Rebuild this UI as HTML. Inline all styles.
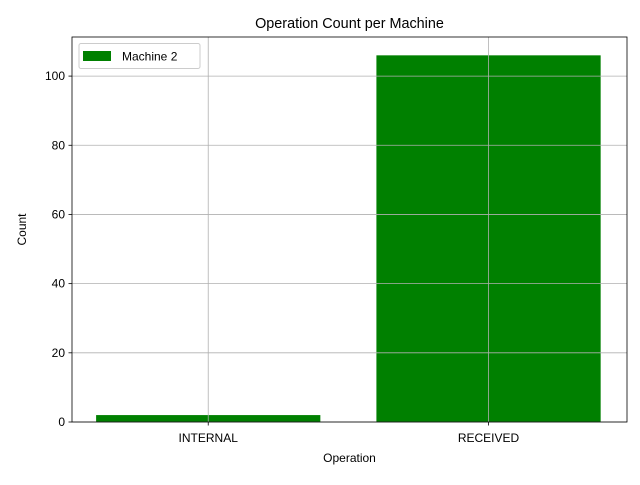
<!DOCTYPE html>
<html><head><meta charset="utf-8"><style>
body{margin:0;background:#fff}
svg{font-family:"Liberation Sans","DejaVu Sans",sans-serif}
</style></head><body>
<svg id="chart" width="640" height="480" viewBox="0 0 640 480"></svg>
<script>
const categories=["INTERNAL","RECEIVED"];
const values=[2,106];
const yTicks=[0,20,40,60,80,100];
const seriesName="Machine 2";
const NS="http://www.w3.org/2000/svg";
const svg=document.getElementById('chart');
const L=72,R=627,T=37,B=422;
const xmin=-0.486,xmax=1.494,ymin=0,ymax=111.3;
const xs=v=>L+(v-xmin)/(xmax-xmin)*(R-L);
const ys=v=>B-(v-ymin)/(ymax-ymin)*(B-T);
function mk(tag,attrs,parent){const e=document.createElementNS(NS,tag);for(const k in attrs)e.setAttribute(k,attrs[k]);(parent||svg).appendChild(e);return e;}
values.forEach((v,i)=>{
 const r=mk('rect',{x:xs(i-0.4),y:ys(v),width:xs(i+0.4)-xs(i-0.4),height:ys(0)-ys(v),fill:'#008000'});
 
 
});
yTicks.forEach(t=>{
 const g=mk('line',{x1:L,x2:R,y1:ys(t),y2:ys(t),stroke:'#b0b0b0','stroke-width':0.8});
 
 
 mk('line',{x1:L-3.5,x2:L,y1:ys(t),y2:ys(t),stroke:'#000','stroke-width':0.8});
 const tx=mk('text',{x:L-7,y:ys(t)+4,'text-anchor':'end','font-size':12});
 tx.textContent=t;
 
 
});
categories.forEach((c,i)=>{
 const g=mk('line',{x1:xs(i),x2:xs(i),y1:T,y2:B,stroke:'#b0b0b0','stroke-width':0.8});
 
 
 mk('line',{x1:xs(i),x2:xs(i),y1:B,y2:B+3.5,stroke:'#000','stroke-width':0.8});
 const tx=mk('text',{x:xs(i),y:B+20,'text-anchor':'middle','font-size':12});
 tx.textContent=c;
 
 
});
mk('rect',{x:L,y:T,width:R-L,height:B-T,fill:'none',stroke:'#000','stroke-width':0.8});
</script>
<svg width="640" height="480" style="position:absolute;left:0;top:0">
<text x="349.5" y="28" text-anchor="middle" font-size="14.4">Operation Count per Machine</text>
<text x="349.5" y="462" text-anchor="middle" font-size="12">Operation</text>
<text x="26" y="229.5" text-anchor="middle" font-size="12" transform="rotate(-90 26 229.5)">Count</text>
<g>
<rect x="79" y="43.5" width="121" height="25" rx="2" fill="#fff" fill-opacity="0.8" stroke="#ccc"/>
<rect x="83" y="51" width="28" height="10" fill="#008000"/>
<text x="122" y="60.5" font-size="12">Machine 2</text>
</g>
</svg>
</body></html>
